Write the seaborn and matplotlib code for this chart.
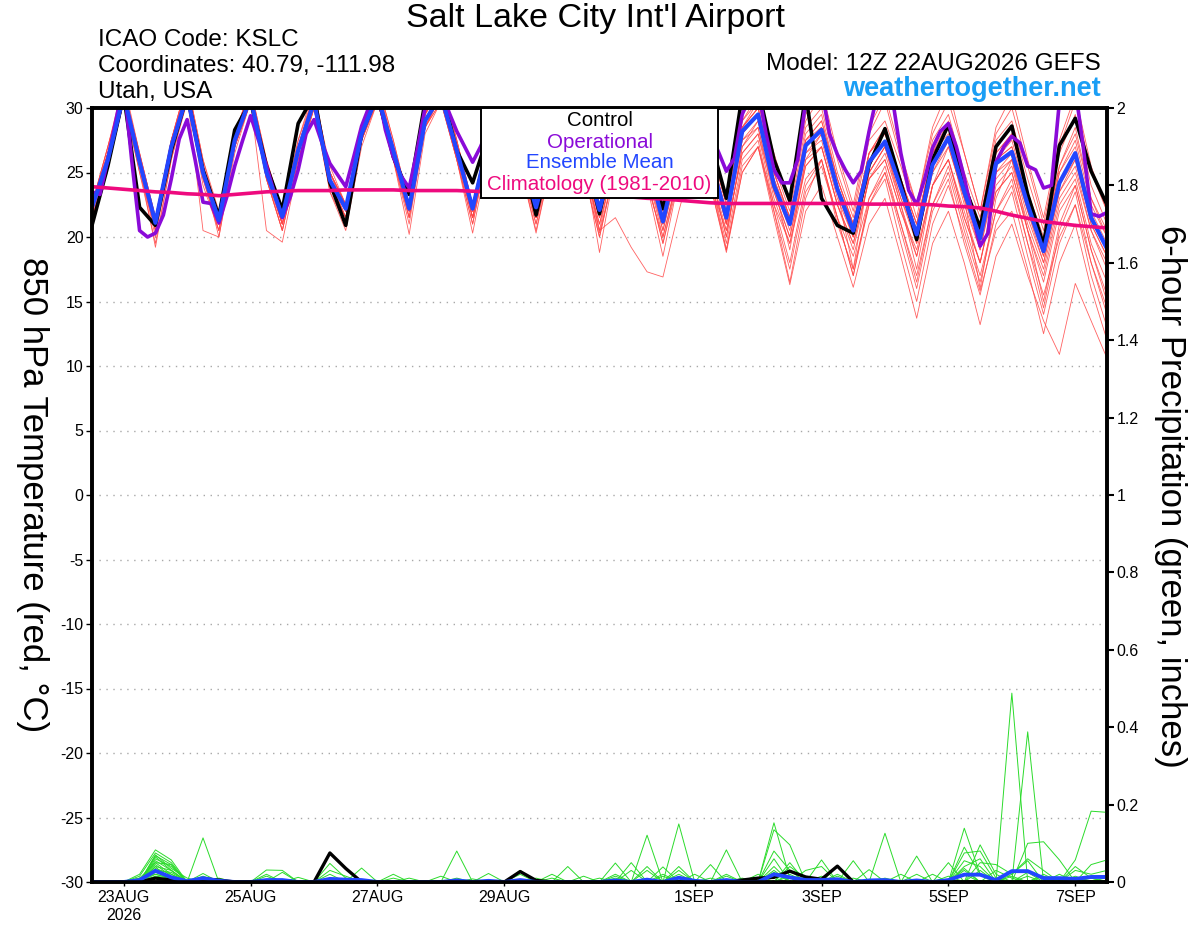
import numpy as np
import pandas as pd
import matplotlib
matplotlib.use("Agg")
import matplotlib.pyplot as plt
import seaborn as sns
from matplotlib.patches import Rectangle

sns.set_theme(style="ticks")
plt.rcParams["font.family"] = ["Liberation Sans", "DejaVu Sans"]
plt.rcParams["text.color"] = "black"
plt.rcParams["axes.labelcolor"] = "black"
plt.rcParams["xtick.color"] = "black"
plt.rcParams["ytick.color"] = "black"
plt.rcParams["axes.edgecolor"] = "black"

# ---------------- data ----------------
START = "2026-08-22 12:00"
times6 = pd.date_range(START, periods=65, freq="6h")
times3 = pd.date_range(START, periods=129, freq="3h")

ens_mean = [22.3, 26.0, 31.0, 25.8, 21.1, 27.0, 31.0, 25.0, 21.3, 27.5, 30.8, 25.0,
            21.6, 26.7, 30.5, 24.4, 22.2, 28.0, 31.0, 26.7, 22.2, 29.0, 31.0, 26.7,
            22.2, 27.5, 30.5, 26.5, 22.3, 27.0, 30.5, 26.5, 22.1, 27.0, 30.5, 26.0,
            21.2, 26.5, 30.0, 26.0, 21.5, 28.2, 29.5, 24.0, 21.0, 27.1, 28.3, 23.7,
            20.5, 25.8, 27.4, 23.8, 20.2, 25.6, 27.7, 23.5, 19.9, 25.7, 26.6, 22.5,
            18.9, 24.2, 26.5, 21.5, 19.1]

control = [20.9, 25.5, 31.0, 22.3, 20.9, 26.7, 31.0, 25.2, 21.6, 28.3, 30.5, 25.5,
           22.1, 28.8, 31.0, 24.2, 20.9, 28.0, 31.0, 26.2, 23.3, 30.5, 31.5, 26.7,
           24.2, 28.0, 31.0, 27.0, 21.7, 27.0, 31.0, 27.0, 21.8, 27.5, 31.0, 26.5,
           22.2, 27.0, 31.0, 27.5, 23.0, 31.0, 31.5, 26.0, 22.8, 31.0, 23.0, 20.9,
           20.3, 25.6, 28.4, 24.2, 19.8, 26.0, 28.7, 24.0, 20.7, 27.0, 28.6, 23.3,
           19.4, 27.1, 29.2, 25.1, 22.5]

operational = [23.5, 23.3, 26.0, 29.0, 32.0, 26.0, 20.5, 20.0, 20.3, 21.7, 24.5, 27.6,
               29.1, 26.0, 22.7, 22.6, 21.1, 23.1, 25.5, 27.5, 29.4, 27.5, 25.5, 23.4,
               21.5, 23.1, 25.2, 28.0, 29.1, 27.3, 25.7, 24.8, 23.9, 26.2, 28.6, 30.2,
               31.5, 28.3, 26.2, 24.7, 23.8, 26.7, 30.0, 31.0, 31.5, 29.7, 28.2, 27.0,
               25.8, 27.0, 28.5, 30.0, 31.0, 30.0, 28.0, 26.5, 25.0, 26.5, 28.0, 30.0,
               31.0, 30.0, 28.0, 26.5, 25.0, 26.5, 28.5, 30.0, 31.0, 30.0, 28.5, 27.0,
               25.5, 27.0, 28.5, 29.5, 30.5, 29.5, 28.0, 26.6, 25.1, 26.1, 29.5, 31.0,
               31.5, 28.0, 25.2, 24.2, 24.2, 26.0, 30.5, 31.5, 31.5, 28.0, 26.4, 25.2,
               24.2, 25.1, 28.2, 31.0, 31.5, 30.5, 26.5, 23.6, 22.5, 24.5, 26.9, 28.2,
               28.8, 27.0, 24.6, 21.8, 19.3, 20.3, 25.8, 27.0, 27.8, 27.3, 25.5, 25.2,
               23.8, 24.0, 30.5, 31.5, 31.5, 27.0, 21.8, 21.6, 21.9]

climatology = [23.9, 23.8, 23.7, 23.6, 23.5, 23.45, 23.35, 23.3, 23.2, 23.3, 23.4, 23.5,
               23.55, 23.6, 23.6, 23.6, 23.65, 23.65, 23.65, 23.65, 23.6, 23.6, 23.6, 23.6,
               23.55, 23.5, 23.5, 23.45, 23.4, 23.35, 23.3, 23.25, 23.2, 23.15, 23.1, 23.0,
               22.95, 22.85, 22.75, 22.65, 22.6, 22.6, 22.6, 22.6, 22.6, 22.6, 22.6, 22.6,
               22.6, 22.55, 22.55, 22.55, 22.55, 22.5, 22.4, 22.35, 22.25, 22.0, 21.7, 21.45,
               21.2, 21.05, 20.9, 20.8, 20.7]

members = {
    "m01": [22.0, 26.5, 31.5, 26.0, 21.0, 27.5, 32.0, 25.5, 21.0, 28.0, 31.5, 25.5, 21.5, 27.0, 31.0, 25.0,
            22.0, 28.5, 32.0, 27.0, 22.5, 29.5, 32.0, 27.0, 22.0, 28.0, 31.0, 27.0, 22.0, 27.5, 31.0, 27.0,
            22.0, 27.5, 31.0, 26.5, 21.0, 27.0, 31.0, 26.5, 21.0, 28.5, 30.5, 25.0, 21.5, 28.0, 29.5, 24.5,
            21.0, 26.5, 28.5, 24.5, 21.0, 26.5, 29.0, 24.5, 20.5, 26.5, 28.0, 23.5, 19.5, 25.5, 28.5, 23.0, 20.0],
    "m02": [22.5, 27.0, 32.0, 26.5, 21.5, 27.5, 32.0, 26.0, 21.5, 28.0, 31.5, 26.0, 22.0, 27.5, 31.5, 25.0,
            22.5, 28.5, 32.0, 27.5, 22.5, 29.5, 32.5, 27.5, 22.5, 28.0, 31.5, 27.0, 22.5, 27.5, 31.5, 27.0,
            22.5, 28.0, 31.5, 27.0, 22.0, 27.5, 31.0, 27.0, 22.5, 29.0, 31.0, 26.0, 22.5, 29.0, 31.0, 26.0,
            22.0, 28.0, 30.5, 26.0, 22.5, 28.0, 30.5, 26.5, 22.0, 28.0, 30.0, 25.5, 21.0, 27.0, 30.5, 25.0, 22.0],
    "m03": [21.5, 25.5, 30.5, 25.0, 19.5, 26.0, 31.0, 24.0, 20.5, 27.0, 30.5, 24.5, 20.5, 26.0, 30.0, 23.5,
            21.0, 27.5, 31.0, 26.0, 21.5, 28.5, 31.0, 26.5, 21.5, 27.0, 30.5, 26.0, 21.0, 26.5, 30.0, 26.0,
            20.5, 26.5, 30.0, 25.5, 20.5, 26.0, 29.5, 25.0, 20.0, 27.0, 28.5, 23.0, 19.5, 25.5, 27.0, 22.5,
            19.0, 24.5, 26.5, 22.5, 18.5, 24.0, 26.0, 22.0, 18.0, 24.0, 25.5, 21.0, 17.5, 23.0, 25.0, 20.5, 17.5],
    "m04": [22.0, 26.0, 31.0, 26.0, 21.0, 27.0, 31.5, 25.0, 21.0, 27.5, 31.0, 25.0, 21.5, 26.5, 30.5, 24.5,
            22.0, 28.0, 31.5, 27.0, 22.0, 29.0, 31.5, 27.0, 22.0, 27.5, 30.5, 26.5, 22.5, 27.0, 30.5, 26.5,
            22.0, 27.0, 30.5, 26.0, 21.5, 26.5, 30.0, 26.0, 21.5, 28.0, 29.5, 24.0, 20.5, 26.5, 27.5, 23.0,
            20.0, 25.0, 27.0, 23.0, 19.5, 25.0, 27.5, 22.5, 19.0, 25.0, 26.0, 21.5, 18.0, 23.5, 25.5, 20.5, 18.0],
    "m05": [22.0, 26.0, 31.0, 25.5, 20.5, 26.5, 31.0, 25.0, 21.0, 27.5, 31.0, 25.0, 21.0, 26.5, 30.5, 24.0,
            21.5, 27.5, 31.0, 26.5, 22.0, 28.5, 31.0, 26.5, 21.5, 27.0, 30.0, 26.0, 21.5, 26.5, 30.0, 25.5,
            21.0, 26.0, 29.0, 24.0, 20.0, 25.0, 28.0, 24.5, 19.0, 25.0, 27.0, 21.5, 16.3, 22.0, 24.0, 20.0,
            16.1, 21.0, 23.0, 18.5, 13.7, 19.5, 22.0, 18.0, 13.2, 18.5, 21.0, 17.0, 13.5, 10.9, 16.4, 13.5, 10.6],
    "m06": [22.0, 26.5, 31.0, 25.5, 21.0, 27.0, 31.5, 25.0, 20.0, 27.0, 31.0, 25.0, 21.0, 26.5, 30.5, 24.5,
            21.5, 28.0, 31.0, 26.5, 22.0, 29.0, 31.0, 26.5, 21.5, 27.5, 30.5, 26.0, 21.5, 27.0, 30.0, 26.0,
            20.5, 21.5, 19.2, 17.3, 16.9, 22.0, 26.5, 24.0, 20.5, 26.5, 28.0, 23.5, 20.0, 25.5, 27.0, 22.5,
            19.5, 24.5, 26.0, 22.0, 19.0, 24.0, 26.0, 21.5, 18.0, 23.5, 25.0, 20.5, 16.5, 22.0, 24.0, 19.0, 15.5],
    "m07": [22.5, 26.5, 31.5, 26.5, 21.5, 27.5, 31.5, 25.5, 21.5, 28.0, 31.0, 25.5, 22.0, 27.0, 31.0, 25.0,
            22.5, 28.5, 31.5, 27.0, 22.5, 29.5, 31.5, 27.0, 22.5, 28.0, 31.0, 27.0, 22.5, 27.5, 30.5, 26.0,
            18.8, 25.5, 30.0, 26.0, 21.0, 26.5, 30.0, 26.0, 21.0, 28.5, 30.0, 24.5, 21.0, 27.0, 28.5, 23.5,
            20.0, 25.0, 27.0, 23.0, 20.0, 25.5, 27.5, 23.0, 19.5, 25.0, 26.5, 22.0, 18.5, 24.0, 26.0, 21.0, 18.5],
    "m08": [21.8, 25.5, 30.5, 25.5, 20.5, 26.5, 31.0, 20.5, 20.0, 26.5, 30.5, 20.5, 19.6, 25.5, 30.0, 24.0,
            21.0, 27.5, 30.5, 26.0, 21.0, 28.5, 30.5, 26.0, 21.0, 27.0, 30.0, 25.5, 20.5, 26.0, 29.5, 25.5,
            20.3, 25.5, 29.5, 25.0, 20.0, 25.0, 29.0, 25.0, 20.0, 27.0, 29.0, 24.0, 19.0, 26.0, 28.0, 23.5,
            17.5, 25.0, 27.0, 22.5, 17.5, 24.0, 27.0, 23.0, 16.0, 23.0, 26.0, 20.5, 15.0, 21.0, 24.0, 19.0, 15.0],
    "m09": [22.3, 26.0, 31.0, 26.0, 21.0, 27.0, 31.0, 25.0, 21.5, 27.5, 31.0, 25.5, 21.5, 27.0, 30.5, 24.5,
            22.0, 28.0, 31.0, 26.5, 22.0, 29.0, 31.0, 27.0, 22.0, 27.5, 31.0, 26.5, 22.5, 27.0, 31.0, 26.5,
            22.0, 27.0, 30.5, 26.5, 21.5, 26.5, 30.5, 26.0, 21.5, 28.5, 30.0, 25.0, 21.5, 27.5, 29.0, 24.5,
            21.0, 26.5, 28.0, 24.5, 20.5, 26.0, 28.5, 24.0, 20.5, 26.0, 27.5, 23.0, 19.5, 25.0, 27.5, 22.5, 20.0],
    "m10": [22.0, 26.5, 31.0, 25.5, 20.8, 26.5, 31.0, 25.0, 21.0, 27.0, 30.5, 24.5, 21.0, 26.5, 30.0, 24.0,
            21.5, 27.5, 31.0, 26.5, 22.0, 28.5, 31.0, 26.5, 22.0, 27.0, 30.0, 26.0, 21.5, 26.5, 30.0, 25.5,
            21.5, 26.0, 29.5, 25.0, 20.5, 25.5, 29.0, 25.0, 20.5, 26.5, 28.0, 22.5, 19.5, 24.5, 26.0, 21.5,
            18.5, 23.0, 25.0, 21.0, 17.0, 22.5, 25.5, 21.0, 17.0, 22.0, 24.0, 19.5, 15.5, 20.0, 22.5, 18.0, 14.5],
    "m11": [22.5, 27.0, 31.5, 26.0, 21.5, 27.5, 31.5, 25.5, 21.5, 28.0, 31.0, 25.5, 22.0, 27.0, 31.0, 25.0,
            22.5, 28.5, 31.5, 27.0, 22.5, 29.5, 31.5, 27.5, 22.5, 28.0, 31.0, 27.0, 22.5, 27.5, 31.0, 27.0,
            22.5, 27.5, 31.0, 26.5, 21.5, 27.0, 31.0, 26.5, 22.0, 29.0, 30.5, 25.5, 22.0, 28.5, 30.0, 25.0,
            21.5, 27.5, 29.0, 25.5, 21.5, 27.5, 29.5, 25.0, 21.5, 27.5, 29.0, 24.5, 20.5, 26.5, 29.5, 24.0, 21.0],
    "m12": [21.5, 25.5, 30.5, 25.0, 20.5, 26.5, 30.5, 24.5, 20.5, 27.0, 30.5, 24.5, 20.5, 26.0, 30.0, 24.0,
            21.0, 27.5, 30.5, 26.0, 21.5, 28.5, 30.5, 26.0, 21.0, 27.0, 30.0, 25.5, 21.0, 26.0, 29.5, 25.0,
            20.0, 25.5, 29.0, 24.5, 19.5, 25.0, 28.5, 24.0, 19.0, 25.5, 27.0, 22.0, 17.5, 23.5, 25.5, 21.5,
            17.0, 22.5, 25.0, 20.5, 16.0, 22.0, 24.5, 19.5, 15.5, 21.0, 23.5, 18.5, 14.0, 19.5, 22.5, 17.0, 13.0],
    "m13": [22.0, 26.0, 31.0, 26.0, 21.0, 27.0, 31.0, 25.0, 21.0, 27.5, 30.5, 25.0, 21.5, 26.5, 30.5, 24.5,
            22.0, 28.0, 31.0, 26.5, 22.0, 29.0, 31.0, 26.5, 22.0, 27.5, 30.5, 26.5, 22.0, 27.0, 30.5, 26.5,
            22.0, 27.0, 30.5, 26.0, 21.0, 26.5, 30.0, 25.5, 21.0, 27.5, 29.0, 24.0, 21.0, 26.5, 28.0, 23.5,
            20.0, 25.5, 27.5, 23.5, 19.5, 25.0, 27.0, 23.0, 19.0, 24.5, 26.0, 22.0, 18.0, 23.5, 26.0, 21.0, 18.5],
    "m14": [22.5, 26.5, 31.0, 26.0, 21.5, 27.0, 31.5, 25.5, 21.5, 27.5, 31.0, 25.0, 21.5, 27.0, 30.5, 25.0,
            22.5, 28.0, 31.5, 27.0, 22.5, 29.0, 31.5, 27.0, 22.5, 27.5, 31.0, 27.0, 22.0, 27.5, 30.5, 26.5,
            22.0, 27.0, 30.5, 26.5, 21.5, 27.0, 30.5, 26.0, 21.5, 28.0, 29.5, 24.5, 21.5, 27.5, 28.5, 24.0,
            21.0, 26.5, 28.0, 24.5, 21.0, 26.5, 28.0, 24.0, 20.5, 26.0, 27.0, 23.0, 19.5, 25.0, 27.0, 22.0, 19.5],
    "m15": [22.0, 26.0, 31.0, 25.5, 20.0, 26.5, 31.0, 25.0, 21.0, 27.0, 30.5, 25.0, 21.0, 26.5, 30.5, 24.5,
            21.5, 27.5, 31.0, 26.5, 21.5, 28.5, 31.0, 26.0, 21.5, 27.0, 30.0, 26.0, 21.5, 26.5, 30.0, 25.5,
            21.0, 26.0, 29.5, 24.0, 18.5, 24.5, 28.5, 24.5, 19.5, 26.0, 27.5, 22.0, 16.5, 23.0, 26.0, 21.0,
            17.5, 22.5, 24.5, 19.5, 15.0, 21.0, 24.0, 20.0, 15.8, 20.5, 22.0, 17.5, 12.5, 18.0, 21.0, 16.0, 12.0],
    "m16": [22.3, 26.5, 31.0, 26.0, 21.0, 27.0, 31.0, 25.0, 21.0, 27.5, 31.0, 25.0, 21.5, 27.0, 30.5, 24.5,
            22.0, 28.0, 31.0, 27.0, 22.5, 29.0, 31.0, 26.5, 22.5, 27.5, 30.5, 26.5, 22.0, 27.0, 30.5, 26.5,
            22.0, 27.5, 30.5, 26.0, 21.5, 26.5, 30.0, 26.0, 21.5, 28.0, 29.5, 24.0, 21.0, 27.0, 28.5, 24.0,
            20.5, 26.0, 27.5, 24.0, 20.5, 25.5, 27.5, 23.5, 20.0, 26.0, 27.0, 22.5, 18.5, 24.0, 26.5, 21.5, 19.0],
    "m17": [21.5, 25.5, 30.5, 25.5, 19.2, 26.0, 30.5, 24.5, 20.5, 27.0, 30.5, 24.5, 20.5, 26.0, 30.0, 23.5,
            20.5, 27.0, 30.5, 26.0, 20.2, 28.0, 30.5, 26.0, 20.3, 26.5, 29.5, 25.5, 20.3, 26.0, 29.5, 25.0,
            20.0, 25.5, 29.0, 24.5, 19.5, 24.5, 28.0, 24.0, 18.8, 25.0, 27.0, 22.5, 18.0, 24.0, 26.0, 21.5,
            17.0, 23.0, 25.5, 21.0, 16.5, 22.5, 25.0, 20.5, 16.5, 22.0, 24.5, 19.5, 14.5, 20.5, 23.5, 18.0, 14.0],
    "m18": [22.5, 27.0, 31.5, 26.5, 21.5, 27.5, 32.0, 26.0, 22.0, 28.0, 31.5, 26.0, 22.0, 27.5, 31.0, 25.5,
            22.5, 28.5, 32.0, 27.5, 22.5, 29.5, 32.0, 27.5, 22.5, 28.0, 31.5, 27.0, 22.5, 28.0, 31.5, 27.0,
            22.5, 28.0, 31.5, 27.0, 22.0, 27.5, 31.0, 27.0, 22.5, 29.5, 31.0, 26.5, 22.5, 29.5, 31.5, 26.5,
            22.5, 28.5, 31.0, 26.5, 22.5, 28.5, 31.5, 26.5, 22.0, 28.5, 31.0, 26.0, 21.5, 27.5, 31.0, 25.5, 22.0],
    "m19": [22.0, 26.0, 31.0, 25.5, 21.0, 27.0, 31.0, 25.0, 21.0, 27.5, 31.0, 25.0, 21.0, 26.5, 30.5, 24.0,
            21.5, 27.5, 31.0, 26.5, 22.0, 29.0, 31.0, 26.5, 21.5, 27.0, 30.5, 26.0, 21.5, 26.5, 30.0, 25.5,
            21.5, 26.5, 30.0, 25.5, 21.0, 26.0, 29.5, 25.5, 21.0, 27.5, 28.5, 23.5, 20.0, 26.0, 27.0, 22.5,
            19.5, 24.5, 26.0, 22.0, 18.5, 24.0, 26.0, 21.5, 18.0, 23.5, 25.0, 20.5, 17.0, 22.5, 24.5, 19.5, 16.5],
    "m20": [22.3, 26.5, 31.5, 26.0, 21.0, 27.0, 31.5, 25.5, 21.5, 28.0, 31.0, 25.5, 21.5, 27.0, 31.0, 25.0,
            22.5, 28.5, 31.5, 27.0, 22.5, 29.5, 31.5, 27.0, 22.5, 28.0, 31.0, 27.0, 22.5, 27.5, 31.0, 26.5,
            22.0, 27.5, 31.0, 26.5, 21.5, 27.0, 30.5, 26.5, 22.0, 28.5, 30.0, 25.0, 21.5, 27.5, 29.0, 24.5,
            21.0, 26.5, 28.5, 24.5, 21.0, 26.5, 28.5, 24.5, 20.5, 26.5, 28.0, 23.5, 20.0, 25.5, 28.0, 23.0, 20.5],
}

# 6-hour precipitation (inches); entries not listed are 0 (sparse tables)
precip_members = {
    "g01": {3: 0.02, 4: 0.083, 5: 0.057, 17: 0.036, 35: 0.121, 55: 0.139, 56: 0.02, 62: 0.057, 63: 0.183, 64: 0.18},
    "g02": {3: 0.015, 4: 0.075, 5: 0.05, 23: 0.08, 37: 0.15, 43: 0.153, 44: 0.01, 58: 0.488},
    "g03": {4: 0.068, 5: 0.045, 7: 0.114, 33: 0.049, 43: 0.135, 44: 0.096, 59: 0.388},
    "g04": {4: 0.06, 5: 0.04, 11: 0.031, 12: 0.03, 27: 0.03, 40: 0.083, 50: 0.126, 56: 0.096, 57: 0.02},
    "g05": {4: 0.055, 5: 0.03, 15: 0.048, 16: 0.01, 30: 0.04, 34: 0.05, 46: 0.057, 52: 0.067, 59: 0.1, 60: 0.104, 61: 0.057},
    "g06": {3: 0.01, 4: 0.05, 5: 0.02, 7: 0.022, 19: 0.02, 36: 0.039, 48: 0.055, 55: 0.075, 56: 0.08, 57: 0.01, 63: 0.045, 64: 0.057},
    "g07": {4: 0.045, 5: 0.015, 12: 0.025, 25: 0.022, 39: 0.045, 44: 0.05, 47: 0.041, 54: 0.05, 62: 0.03, 63: 0.02, 64: 0.03},
    "g08": {4: 0.04, 5: 0.03, 15: 0.03, 16: 0.015, 33: 0.02, 35: 0.04, 43: 0.06, 49: 0.032, 55: 0.055, 56: 0.04, 60: 0.02},
    "g09": {4: 0.035, 5: 0.02, 20: 0.01, 29: 0.02, 37: 0.03, 42: 0.02, 45: 0.03, 46: 0.04, 55: 0.035, 57: 0.03, 58: 0.01, 61: 0.02},
    "g10": {4: 0.03, 5: 0.012, 7: 0.015, 22: 0.015, 32: 0.01, 36: 0.02, 44: 0.04, 45: 0.01, 51: 0.02, 56: 0.05, 57: 0.045, 58: 0.02, 59: 0.055},
    "g11": {4: 0.025, 5: 0.01, 8: 0.01, 13: 0.012, 27: 0.02, 38: 0.02, 43: 0.08, 44: 0.03, 53: 0.02, 58: 0.02, 59: 0.06, 60: 0.03, 64: 0.012},
    "g12": {3: 0.01, 4: 0.02, 5: 0.008, 11: 0.02, 28: 0.01, 34: 0.03, 40: 0.015, 47: 0.02, 56: 0.03, 62: 0.015},
    "g13": {4: 0.015, 5: 0.01, 16: 0.01, 31: 0.015, 37: 0.04, 43: 0.04, 48: 0.01, 55: 0.02, 60: 0.015},
    "g14": {4: 0.01, 15: 0.02, 24: 0.008, 35: 0.03, 44: 0.02, 54: 0.015, 59: 0.025, 63: 0.01},
    "g15": {4: 0.07, 5: 0.035, 6: 0.01, 19: 0.01, 33: 0.015, 41: 0.01, 55: 0.09, 56: 0.02},
    "g16": {4: 0.05, 5: 0.045, 23: 0.01, 36: 0.015, 46: 0.015, 52: 0.02, 58: 0.015, 61: 0.01},
    "g17": {4: 0.03, 5: 0.025, 11: 0.015, 37: 0.02, 43: 0.025, 50: 0.01, 57: 0.01},
    "g18": {4: 0.065, 5: 0.03, 29: 0.01, 39: 0.01, 44: 0.015, 55: 0.04, 56: 0.06},
    "g19": {4: 0.04, 7: 0.01, 33: 0.01, 43: 0.03, 59: 0.015, 62: 0.04, 63: 0.01},
    "g20": {4: 0.02, 5: 0.01, 40: 0.02, 47: 0.015, 55: 0.03},
}
precip_control = {4: 0.01, 5: 0.005, 7: 0.008, 8: 0.005, 15: 0.075, 16: 0.035, 27: 0.027, 28: 0.004,
                  41: 0.005, 42: 0.01, 43: 0.012, 44: 0.028, 45: 0.013, 46: 0.007, 47: 0.041}
precip_mean = {3: 0.005, 4: 0.029, 5: 0.012, 6: 0.002, 7: 0.01, 8: 0.003, 11: 0.005, 12: 0.005, 15: 0.008,
               16: 0.006, 17: 0.005, 23: 0.004, 25: 0.003, 27: 0.005, 33: 0.004, 35: 0.006, 37: 0.011,
               38: 0.003, 40: 0.005, 43: 0.02, 44: 0.012, 45: 0.005, 46: 0.005, 47: 0.007, 49: 0.004,
               50: 0.005, 52: 0.004, 54: 0.005, 55: 0.019, 56: 0.019, 57: 0.005, 58: 0.028, 59: 0.028,
               60: 0.01, 61: 0.01, 62: 0.008, 63: 0.013, 64: 0.013}

tick_dates = ["2026-08-23", "2026-08-25", "2026-08-27", "2026-08-29",
              "2026-09-01", "2026-09-03", "2026-09-05", "2026-09-07"]
tick_labels = ["23AUG\n2026", "25AUG", "27AUG", "29AUG", "1SEP", "3SEP", "5SEP", "7SEP"]
temp_ticks = list(range(-30, 31, 5))
precip_ticks = [0, 0.2, 0.4, 0.6, 0.8, 1, 1.2, 1.4, 1.6, 1.8, 2]

# colours
C_RED = "#FF4545"
C_GREEN = "#2BDB2B"
C_CTRL = "#000000"
C_OPER = "#8A0AD8"
C_MEAN = "#2246FF"
C_CLIM = "#EE0A7E"

# ---------------- frames ----------------
temp_df = pd.concat([pd.DataFrame({"time": times6, "temp": v, "member": k})
                     for k, v in members.items()], ignore_index=True)

def dense(d):
    s = pd.Series(0.0, index=range(len(times6)))
    for k, v in d.items():
        s[k] = v
    return s.values

precip_df = pd.concat([pd.DataFrame({"time": times6, "pcp": dense(v), "member": k})
                       for k, v in precip_members.items()], ignore_index=True)

# ---------------- figure ----------------
W, H = 1200, 927
fig = plt.figure(figsize=(W / 100, H / 100), dpi=100)
L, R, T, B = 92, 1107, 108, 882
ax = fig.add_axes([L / W, 1 - B / H, (R - L) / W, (B - T) / H])
ax2 = ax.twinx()

sns.lineplot(data=temp_df, x="time", y="temp", units="member", estimator=None,
             color=C_RED, lw=0.6, alpha=0.85, ax=ax, legend=False)
sns.lineplot(x=times6, y=control, color=C_CTRL, lw=2.6, ax=ax)
sns.lineplot(x=times3, y=operational, color=C_OPER, lw=2.6, ax=ax)
sns.lineplot(x=times6, y=ens_mean, color=C_MEAN, lw=3.0, ax=ax)
sns.lineplot(x=times6, y=climatology, color=C_CLIM, lw=2.6, ax=ax)

sns.lineplot(data=precip_df, x="time", y="pcp", units="member", estimator=None,
             color=C_GREEN, lw=0.7, ax=ax2, legend=False)
sns.lineplot(x=times6, y=dense(precip_control), color=C_CTRL, lw=2.4, ax=ax2)
sns.lineplot(x=times6, y=dense(precip_mean), color=C_MEAN, lw=2.8, ax=ax2)

ax.set_xlim(times6[0], times6[-1])
ax.set_ylim(-30, 30)
ax2.set_ylim(0, 2)

ax.set_yticks(temp_ticks)
ax.set_yticklabels([str(t) for t in temp_ticks])
ax2.set_yticks(precip_ticks)
ax2.set_yticklabels([("%g" % t) for t in precip_ticks])
ax.set_xticks(pd.to_datetime(tick_dates))
ax.set_xticklabels(tick_labels, ha="center", multialignment="center")

ax.yaxis.grid(True, linestyle=(0, (1, 4)), color="#A8A8A8", lw=1.0)
ax.xaxis.grid(False)
ax.set_axisbelow(True)

for a in (ax, ax2):
    a.set_xlabel("")
    a.set_ylabel("")
    for s in a.spines.values():
        s.set_linewidth(2.6)
        s.set_color("black")
ax.tick_params(axis="y", left=True, direction="out", length=4, width=1, labelsize=11.5, pad=2,
               colors="black")
ax.tick_params(axis="x", bottom=True, direction="out", length=3, width=1, labelsize=11.5, pad=3,
               colors="black")
ax2.tick_params(axis="y", right=True, direction="out", length=5, width=1.5, labelsize=11.5, pad=2,
                colors="black")

# axis titles
fig.text(32 / W, 1 - 495 / H, "850 hPa Temperature (red, °C)", rotation=270,
         ha="center", va="center", fontsize=25)
fig.text(1170 / W, 1 - 496 / H, "6-hour Precipitation (green, inches)", rotation=270,
         ha="center", va="center", fontsize=25)

# header
fig.text(595 / W, 1 - 19 / H, "Salt Lake City Int'l Airport", ha="center", va="center", fontsize=24.5)
fig.text(98 / W, 1 - 40 / H, "ICAO Code: KSLC", ha="left", va="center", fontsize=17.5)
fig.text(98 / W, 1 - 66 / H, "Coordinates: 40.79, -111.98", ha="left", va="center", fontsize=17.5)
fig.text(98 / W, 1 - 92 / H, "Utah, USA", ha="left", va="center", fontsize=17.5)
fig.text(1101 / W, 1 - 64 / H, "Model: 12Z 22AUG2026 GEFS", ha="right", va="center", fontsize=17.5)
fig.text(1101 / W, 1 - 89 / H, "weathertogether.net", ha="right", va="center",
         fontsize=19.5, weight="bold", color="#1A9EF5")

# legend box
bx0, bx1, by0, by1 = 481, 718, 108, 198
fig.add_artist(Rectangle((bx0 / W, 1 - by1 / H), (bx1 - bx0) / W, (by1 - by0) / H,
                         transform=fig.transFigure, facecolor="white", edgecolor="black",
                         lw=1.4, zorder=5))
cx = (bx0 + bx1) / 2 / W
for label, col, yy in [("Control", C_CTRL, 121), ("Operational", C_OPER, 142),
                       ("Ensemble Mean", C_MEAN, 163), ("Climatology (1981-2010)", C_CLIM, 185)]:
    fig.text(cx, 1 - yy / H, label, color=col, ha="center", va="center", fontsize=14.8, zorder=6)

fig.savefig("out.png", dpi=100)
